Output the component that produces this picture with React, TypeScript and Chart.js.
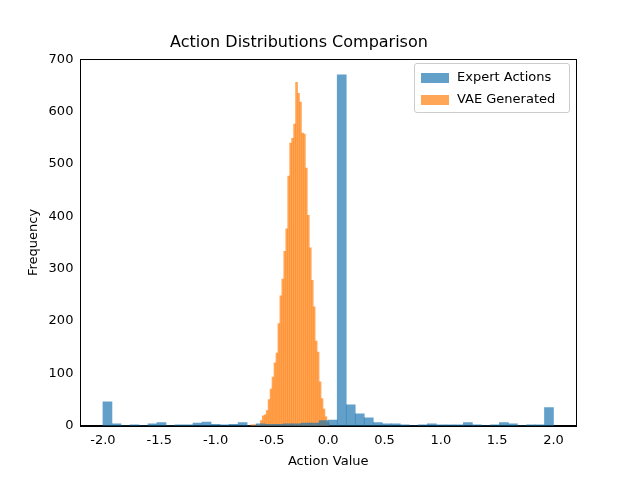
import React, { useEffect, useRef } from "react";
import { Chart, registerables } from "chart.js";
Chart.register(...registerables);

const expertStart = -2.0;
const expertWidth = 0.08;
const expertCounts = [46,4,0,2,0,4,6,0,2,2,5,7,3,2,3,6,0,4,3,3,4,4,5,5,10,11,670,40,23,15,6,4,4,2,0,2,4,2,2,2,6,2,0,2,6,4,0,2,2,35];
const vaeStart = -0.69;
const vaeWidth = 0.0174;
const vaeCounts = [2,2,2,2,1,10,19,21,29,50,70,93,120,139,195,248,280,333,376,477,540,549,576,656,635,618,559,557,492,402,340,278,227,162,141,84,52,32,17,6];
const xTicks = [-2, -1.5, -1, -0.5, 0, 0.5, 1, 1.5, 2];

const frame = {
  id: "frame",
  afterDraw(chart: any) {
    const { ctx, chartArea: a } = chart;
    ctx.save();
    ctx.strokeStyle = "#000";
    ctx.lineWidth = 1;
    ctx.strokeRect(Math.round(a.left) + 0.5, Math.round(a.top) + 0.5, Math.round(a.right - a.left), Math.round(a.bottom - a.top));
    ctx.restore();
  },
};

export default function App() {
  const ref = useRef<HTMLCanvasElement>(null);
  useEffect(() => {
    const font = { family: "DejaVu Sans", size: 13 };
    const axis = (display: boolean) => ({
      type: "linear" as const, min: -2.2, max: 2.2, display, offset: false,
      grid: { display: false, drawTicks: true, tickLength: 4 },
      border: { color: "#000" },
      afterBuildTicks: (s: any) => { s.ticks = xTicks.map(v => ({ value: v })); },
      ticks: { color: "#000", font, padding: 3, callback: (v: any) => Number(v).toFixed(1) },
      title: { display, text: "Action Value", color: "#000", font, padding: 2 },
    });
    const chart = new Chart(ref.current!, {
      type: "bar",
      data: {
        datasets: [
          { label: "Expert Actions", xAxisID: "x", data: expertCounts.map((c, i) => ({ x: expertStart + expertWidth * (i + 0.5), y: c })),
            backgroundColor: "rgba(31,119,180,0.7)", barPercentage: 1, categoryPercentage: 1, grouped: false },
          { label: "VAE Generated", xAxisID: "x2", data: vaeCounts.map((c, i) => ({ x: vaeStart + vaeWidth * (i + 0.5), y: c })),
            backgroundColor: "rgba(255,127,14,0.7)", barPercentage: 1, categoryPercentage: 1, grouped: false },
        ],
      },
      options: {
        animation: false, responsive: false,
        layout: { padding: { left: 22, right: 64, top: 0, bottom: 9 } },
        plugins: {
          legend: { display: false },
          title: { display: true, text: "Action Distributions Comparison", color: "#000", font: { family: "DejaVu Sans", size: 16, weight: "normal" }, padding: { top: 33, bottom: 7 } },
          tooltip: { enabled: false },
        },
        scales: {
          x: axis(true) as any,
          x2: axis(false) as any,
          y: { min: 0, max: 700, offset: false, grid: { display: false, tickLength: 4 }, border: { color: "#000" },
            ticks: { stepSize: 100, color: "#000", font },
            title: { display: true, text: "Frequency", color: "#000", font } },
        },
      },
      plugins: [frame],
    });
    return () => chart.destroy();
  }, []);
  const sw = (c: string) => <span style={{ display: "inline-block", width: 28, height: 10, background: c, marginRight: 8, verticalAlign: "middle" }} />;
  return (
    <div style={{ position: "fixed", left: 0, top: 0, width: 640, height: 480, background: "#fff" }}>
      <canvas ref={ref} width={640} height={480} />
      <div style={{ position: "absolute", left: 414, top: 63, width: 156, border: "1px solid #ccc", borderRadius: 3, padding: "2px 6px", fontFamily: "DejaVu Sans", fontSize: 13, lineHeight: "22px", boxSizing: "border-box", background: "rgba(255,255,255,0.8)" }}>
        <div>{sw("rgba(31,119,180,0.7)")}Expert Actions</div>
        <div>{sw("rgba(255,127,14,0.7)")}VAE Generated</div>
      </div>
    </div>
  );
}
